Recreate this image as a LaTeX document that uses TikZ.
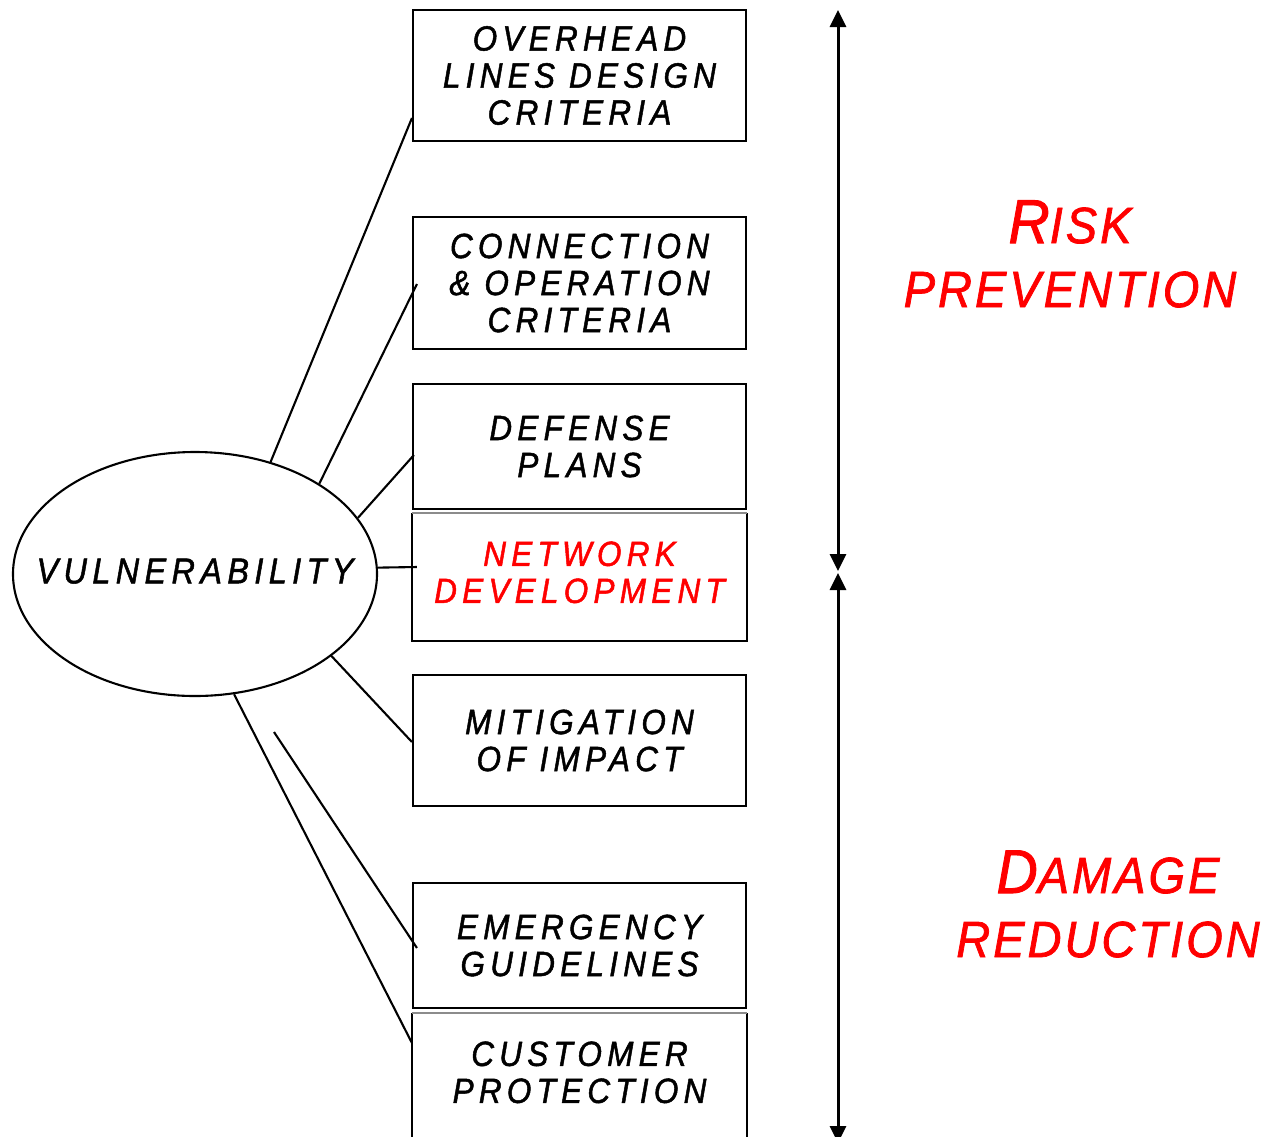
\documentclass[tikz,border=0pt]{standalone}
\usepackage{fontspec}
\setmainfont{Liberation Sans}
\newfontfamily\boxfont[LetterSpace=15,FakeBold=1.4,FakeStretch=0.9]{Liberation Sans}
\newfontfamily\tagfont[LetterSpace=6,FakeBold=1.4,FakeStretch=0.92]{Liberation Sans}
\usetikzlibrary{shapes.geometric,arrows.meta,calc}
\definecolor{sepgray}{RGB}{140,140,140}
\newcommand{\smallcapword}[2]{{\fontsize{62pt}{62pt}\selectfont #1}{\fontsize{51pt}{51pt}\selectfont #2}}

\begin{document}
\begin{tikzpicture}[x=1pt,y=-1pt,
  panel/.style={draw, line width=2.1pt, minimum width=333pt, inner sep=0pt,
    align=center, font={\boxfont\itshape\fontsize{35pt}{37pt}\selectfont}},
  openpanel/.style={panel, draw=none},
  tie/.style={line width=2.1pt},
  span/.style={line width=3pt, {Triangle[width=16pt,length=17pt]}-{Triangle[width=16pt,length=17pt]}},
  tag/.style={text=red, align=center, font={\tagfont\itshape\fontsize{51pt}{64pt}\selectfont}}]
\useasboundingbox (0,0) rectangle (1266,1136);

% central ellipse (text box kept at zero width so the outline keeps its size)
\node[ellipse, draw, line width=2.1pt, minimum width=364pt, minimum height=244pt,
      inner sep=0pt, font={\boxfont\itshape\fontsize{36pt}{38pt}\selectfont}]
      (vul) at (195,574) {\makebox[0pt]{\raisebox{6pt}{VULNERABILITY}}};

% measure panels
\node[panel, minimum height=131pt] (ohl) at (579.5,75.5) {OVERHEAD\\LINES DESIGN\\CRITERIA};
\node[panel, minimum height=132pt] (con) at (579.5,283) {CONNECTION\\\& OPERATION\\CRITERIA};
\node[panel, minimum height=125pt] (def) at (579.5,446.5) {DEFENSE\\PLANS};
\node[openpanel, minimum height=126pt, text=red] (net) at (579.5,577) {\raisebox{4pt}{\begin{tabular}{@{}c@{}}NETWORK\\DEVELOPMENT\end{tabular}}};
\node[panel, minimum height=131pt] (mit) at (579.5,740.5) {MITIGATION\\OF IMPACT};
\node[panel, minimum height=125pt] (emg) at (579.5,945.5) {EMERGENCY\\GUIDELINES};
\node[openpanel, minimum height=126pt] (cus) at (579.5,1077) {\raisebox{6pt}{\begin{tabular}{@{}c@{}}CUSTOMER\\PROTECTION\end{tabular}}};

% lower halves of the paired panels: black sides, grey top
\foreach \p in {net,cus}{
  \draw[line width=2.1pt] (\p.north west) -- (\p.south west) -- (\p.south east) -- (\p.north east);
  \draw[line width=2.1pt, sepgray] (\p.north west) -- (\p.north east);
}

% connectors from the ellipse
\draw[tie] (vul.56.55) -- ([yshift=-42.5pt]ohl.west);
\draw[tie] (vul.36.2) -- ([xshift=5pt,yshift=-1pt]con.west);
\draw[tie] (vul.19.07) -- ([xshift=2pt,yshift=-8.5pt]def.west);
\draw[tie] (vul.2) -- ([xshift=5pt,yshift=10pt]net.west);
\draw[tie] (vul.-31.2) -- ([yshift=-1.5pt]mit.west);
\coordinate (loose) at (274,732);
\draw[tie] (loose) -- ([xshift=5pt,yshift=-2.5pt]emg.west);
\draw[tie] (vul.-72.7) -- ([yshift=34pt]cus.west);

% vertical spans
\coordinate (atop) at (838,10);
\coordinate (amidA) at (838,571);
\coordinate (amidB) at (838,573);
\coordinate (abot) at (838,1143);
\draw[span] (atop) -- (amidA);
\draw[span] (amidB) -- (abot);

% span captions
\node[tag] (risk) at (1070,254) {\smallcapword{R}{ISK}\\PREVENTION};
\node[tag] (damage) at (1108,904) {\smallcapword{D}{AMAGE}\\REDUCTION};
\end{tikzpicture}
\end{document}
